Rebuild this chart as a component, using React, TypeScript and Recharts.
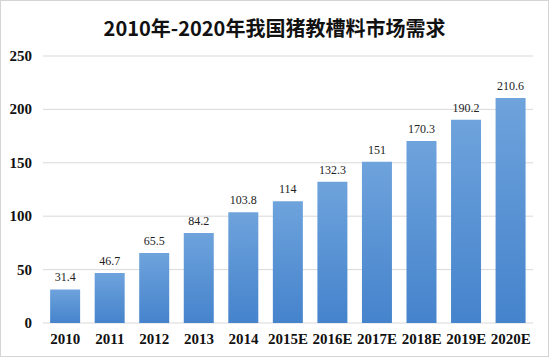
import { BarChart, Bar, XAxis, YAxis, CartesianGrid, LabelList } from 'recharts';

const years = ['2010', '2011', '2012', '2013', '2014', '2015E', '2016E', '2017E', '2018E', '2019E', '2020E'];
const demand = [31.4, 46.7, 65.5, 84.2, 103.8, 114, 132.3, 151, 170.3, 190.2, 210.6];
const yTicks = [0, 50, 100, 150, 200, 250];

const data = years.map((year, i) => ({ year, demand: demand[i] }));

const serif = 'Liberation Serif';

const XTick = ({ x, y, payload }: any) => (
  <text x={x} y={y + 21} textAnchor="middle" fontFamily={serif} fontWeight="bold" fontSize={15} fill="#111">
    {payload.value}
  </text>
);

const YTick = ({ x, y, payload }: any) => (
  <text x={x} y={y + 5} textAnchor="end" fontFamily={serif} fontWeight="bold" fontSize={15} fill="#111">
    {payload.value}
  </text>
);

export default function App() {
  return (
    <div
      style={{
        position: 'absolute',
        left: 0,
        top: 0,
        width: 549,
        height: 357,
        boxSizing: 'border-box',
        border: '1px solid #d4d4d4',
        background: '#fff',
      }}
    >
      <div
        style={{
          position: 'absolute',
          left: 0,
          right: 0,
          top: 13,
          textAlign: 'center',
          fontFamily: "'Noto Sans CJK SC', sans-serif",
          fontWeight: 'bold',
          fontSize: 20,
          color: '#111',
          lineHeight: '28px',
        }}
      >
        2010年-2020年我国猪教槽料市场需求
      </div>
      <BarChart
        width={549}
        height={357}
        data={data}
        margin={{ top: 56, right: 16, bottom: 0, left: 0 }}
        barCategoryGap="16%"
        style={{ position: 'absolute', left: -1, top: -1 }}
      >
        <defs>
          <linearGradient id="barFill" x1="0" y1="0" x2="0" y2="1">
            <stop offset="0%" stopColor="#6ea3dc" />
            <stop offset="100%" stopColor="#4583cc" />
          </linearGradient>
        </defs>
        <CartesianGrid vertical={false} stroke="#d9d9d9" />
        <XAxis
          dataKey="year"
          height={34}
          axisLine={false}
          tickLine={false}
          tickSize={0}
          tickMargin={0}
          interval={0}
          tick={<XTick />}
        />
        <YAxis
          width={43}
          domain={[0, 250]}
          ticks={yTicks}
          axisLine={false}
          tickLine={false}
          tickSize={0}
          tickMargin={11}
          tick={<YTick />}
        />
        <Bar dataKey="demand" fill="url(#barFill)" isAnimationActive={false}>
          <LabelList
            dataKey="demand"
            position="top"
            offset={8}
            fontFamily={serif}
            fontSize={12}
            fill="#222"
          />
        </Bar>
      </BarChart>
    </div>
  );
}
